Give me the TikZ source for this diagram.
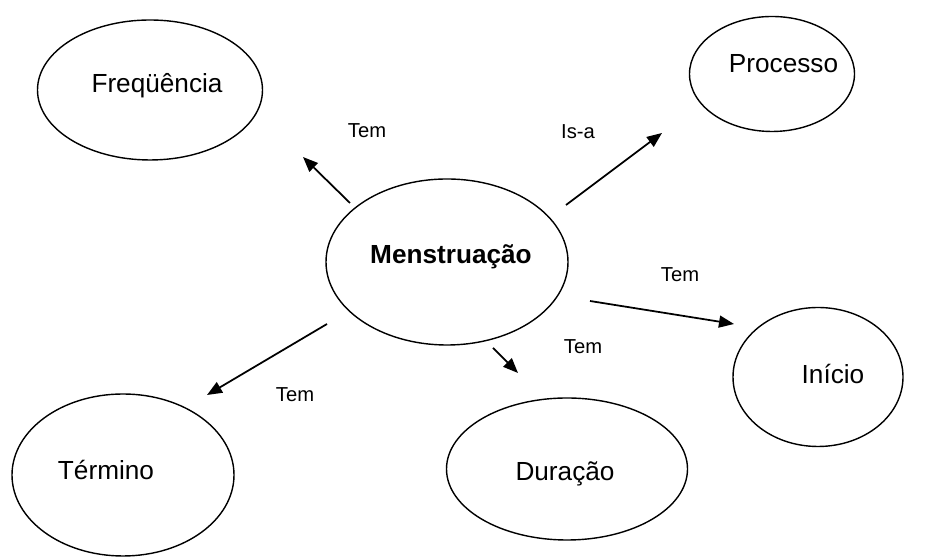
\documentclass[tikz,border=0pt]{standalone}
\usepackage{fontspec}
\setmainfont{Liberation Sans}
\usetikzlibrary{shapes.geometric,arrows.meta}

\tikzset{
  concept/.style={draw=black, line width=0.8pt, ellipse, inner sep=0pt,
    font=\fontsize{14.9}{18}\selectfont},
  relation/.style={font=\fontsize{11.5}{14}\selectfont},
  link/.style={black, line width=1pt, -{Triangle[length=0.3cm, width=0.24cm]}}
}

\begin{document}
\begin{tikzpicture}
\useasboundingbox (0,0) rectangle (18.5,11.18);

\node[concept, minimum width=4.84cm, minimum height=3.32cm,
  label={[shift={(0.08,0.1)}, font=\fontsize{14.9}{18}\selectfont\bfseries]center:Menstruação}] (menstruacao) at (8.94,5.94) {};
\node[concept, minimum width=4.5cm, minimum height=2.8cm,
  label={[shift={(0.14,0.08)}, font=\fontsize{14.9}{18}\selectfont]center:Freqüência}] (frequencia) at (3.00,9.38) {};
\node[concept, minimum width=3.3cm, minimum height=2.3cm,
  label={[shift={(0.23,0.2)}, font=\fontsize{14.9}{18}\selectfont]center:Processo}] (processo) at (15.44,9.70) {};
\node[concept, minimum width=3.4cm, minimum height=2.78cm,
  label={[shift={(0.30,0.06)}, font=\fontsize{14.9}{18}\selectfont]center:Início}] (inicio) at (16.36,3.64) {};
\node[concept, minimum width=4.82cm, minimum height=2.84cm,
  label={[shift={(-0.04,-0.1)}, font=\fontsize{14.9}{18}\selectfont]center:Duração}] (duracao) at (11.34,1.80) {};
\node[concept, minimum width=4.44cm, minimum height=3.24cm,
  label={[shift={(-0.34,0.1)}, font=\fontsize{14.9}{18}\selectfont]center:Término}] (termino) at (2.46,1.68) {};

\coordinate (frequenciaFrom) at (7.00,7.12);
\coordinate (frequenciaTo) at (6.06,8.04);
\coordinate (processoFrom) at (11.32,7.08);
\coordinate (processoTo) at (13.24,8.52);
\coordinate (inicioFrom) at (11.80,5.16);
\coordinate (inicioTo) at (14.68,4.70);
\coordinate (duracaoFrom) at (9.86,4.22);
\coordinate (duracaoTo) at (10.36,3.72);
\coordinate (terminoFrom) at (6.54,4.70);
\coordinate (terminoTo) at (4.14,3.28);

\draw[link] (frequenciaFrom) -- (frequenciaTo);
\draw[link] (processoFrom) -- (processoTo);
\draw[link] (inicioFrom) -- (inicioTo);
\draw[link] (duracaoFrom) -- (duracaoTo);
\draw[link] (terminoFrom) -- (terminoTo);

\node[relation] (temFrequencia) at (7.34,8.56) {Tem};
\node[relation] (isaProcesso) at (11.56,8.54) {Is-a};
\node[relation] (temInicio) at (13.60,5.68) {Tem};
\node[relation] (temDuracao) at (11.66,4.24) {Tem};
\node[relation] (temTermino) at (5.90,3.28) {Tem};

\end{tikzpicture}
\end{document}
